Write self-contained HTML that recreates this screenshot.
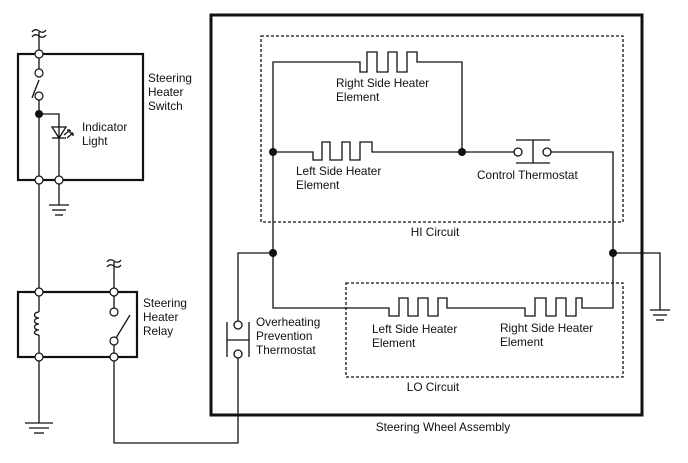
<!DOCTYPE html>
<html><head><meta charset="utf-8"><style>
html,body{margin:0;padding:0;background:#fff;}
svg{display:block;}
text{font-family:"Liberation Sans",sans-serif;font-size:11.8px;fill:#111;}
</style></head><body>
<svg width="688" height="463" viewBox="0 0 688 463" xmlns="http://www.w3.org/2000/svg">
<g fill="none" stroke="#111" stroke-width="1.3">
<rect x="211" y="15" width="431" height="400" stroke-width="3"/>
<rect x="261" y="36" width="362" height="186" stroke-dasharray="3,2"/>
<rect x="346" y="283" width="277" height="94" stroke-dasharray="3,2"/>
<polyline points="273,152 273,62 360,62 360,72 367,72 367,52 377,52 377,72 388,72 388,52 397,52 397,72 407,72 407,52 417,52 417,62 462,62 462,152"/>
<polyline points="273,152 313,152 313,160 322,160 322,142 330,142 330,160 342,160 342,142 350,142 350,160 360,160 360,142 372,142 372,152 462,152 514,152"/>
<circle cx="518" cy="152" r="4" fill="#fff"/>
<circle cx="547" cy="152" r="4" fill="#fff"/>
<line x1="533" y1="140" x2="533" y2="163"/>
<line x1="516" y1="140" x2="550" y2="140"/>
<line x1="516" y1="163" x2="550" y2="163"/>
<polyline points="551,152 613,152 613,308 582,308 582,298 576,298 576,316 566,316 566,298 556,298 556,316 546,316 546,298 535,298 535,316 525,316 525,308 447,308 447,298 438,298 438,316 428,316 428,298 418,298 418,316 408,316 408,298 399,298 399,316 389,316 389,308 273,308 273,152"/>
<polyline points="613,253 660,253 660,310"/>
<line x1="650" y1="310" x2="670" y2="310"/>
<line x1="653" y1="315" x2="667" y2="315"/>
<line x1="656" y1="320" x2="664" y2="320"/>
<polyline points="273,253 238,253 238,321"/>
<circle cx="238" cy="325" r="4" fill="#fff"/>
<circle cx="238" cy="354" r="4" fill="#fff"/>
<line x1="227" y1="322" x2="227" y2="357"/>
<line x1="249" y1="322" x2="249" y2="357"/>
<line x1="227" y1="340" x2="249" y2="340"/>
<polyline points="238,358 238,443 114,443 114,361"/>
<rect x="18" y="54" width="125" height="126" stroke-width="2.2"/>
<line x1="39" y1="32" x2="39" y2="69"/>
<path d="M32,32 q3,-4 7,-1 t7,-1 M32,37 q3,-4 7,-1 t7,-1"/>
<line x1="39" y1="100" x2="39" y2="176"/>
<line x1="32" y1="98" x2="39" y2="80"/>
<polyline points="39,114 59,114 59,205"/>
<polygon points="52,127 66,127 59,138"/>
<line x1="52" y1="138" x2="66" y2="138"/>
<path d="M64,135 l6,-5 M67,138 l6,-5"/>
<path d="M70,130 l-3,0 M70,130 l0,3 M73,133 l-3,0 M73,133 l0,3"/>
<line x1="49" y1="205" x2="69" y2="205"/>
<line x1="52" y1="210" x2="66" y2="210"/>
<line x1="55" y1="215" x2="63" y2="215"/>
<line x1="39" y1="184" x2="39" y2="288"/>
<rect x="18" y="292" width="119" height="65" stroke-width="2.2"/>
<line x1="39" y1="296" x2="39" y2="312"/>
<path d="M39,312 c-6,0 -6,6 0,6 c-6,0 -6,6 0,6 c-6,0 -6,6 0,6 c-6,0 -6,5 0,5"/>
<line x1="39" y1="335" x2="39" y2="353"/>
<line x1="39" y1="361" x2="39" y2="423"/>
<line x1="25" y1="423" x2="53" y2="423"/>
<line x1="29" y1="428" x2="49" y2="428"/>
<line x1="34" y1="433" x2="44" y2="433"/>
<line x1="114" y1="262" x2="114" y2="308"/>
<path d="M107,262 q3,-4 7,-1 t7,-1 M107,267 q3,-4 7,-1 t7,-1"/>
<line x1="116" y1="338" x2="130" y2="315"/>
<line x1="114" y1="345" x2="114" y2="353"/>
</g>
<g fill="#fff" stroke="#111" stroke-width="1.2">
<circle cx="39" cy="54" r="4"/><circle cx="39" cy="73" r="4"/><circle cx="39" cy="96" r="4"/>
<circle cx="39" cy="180" r="4"/><circle cx="59" cy="180" r="4"/>
<circle cx="39" cy="292" r="4"/><circle cx="39" cy="357" r="4"/>
<circle cx="114" cy="292" r="4"/><circle cx="114" cy="312" r="4"/><circle cx="114" cy="341" r="4"/><circle cx="114" cy="357" r="4"/>
</g>
<g fill="#111">
<circle cx="39" cy="114" r="4"/>
<circle cx="273" cy="152" r="4"/><circle cx="462" cy="152" r="4"/>
<circle cx="273" cy="253" r="4"/><circle cx="613" cy="253" r="4"/>
</g>
<text x="148" y="82">Steering</text><text x="148" y="96">Heater</text><text x="148" y="110">Switch</text>
<text x="82" y="131">Indicator</text><text x="82" y="145">Light</text>
<text x="143" y="307">Steering</text><text x="143" y="321">Heater</text><text x="143" y="335">Relay</text>
<text x="256" y="326">Overheating</text><text x="256" y="340">Prevention</text><text x="256" y="354">Thermostat</text>
<text x="336" y="87">Right Side Heater</text><text x="336" y="101">Element</text>
<text x="296" y="175">Left Side Heater</text><text x="296" y="189">Element</text>
<text x="477" y="179">Control Thermostat</text>
<text x="435" y="236" text-anchor="middle">HI Circuit</text>
<text x="372" y="333">Left Side Heater</text><text x="372" y="347">Element</text>
<text x="500" y="332">Right Side Heater</text><text x="500" y="346">Element</text>
<text x="433" y="391" text-anchor="middle">LO Circuit</text>
<text x="443" y="431" text-anchor="middle">Steering Wheel Assembly</text>
</svg>
</body></html>
